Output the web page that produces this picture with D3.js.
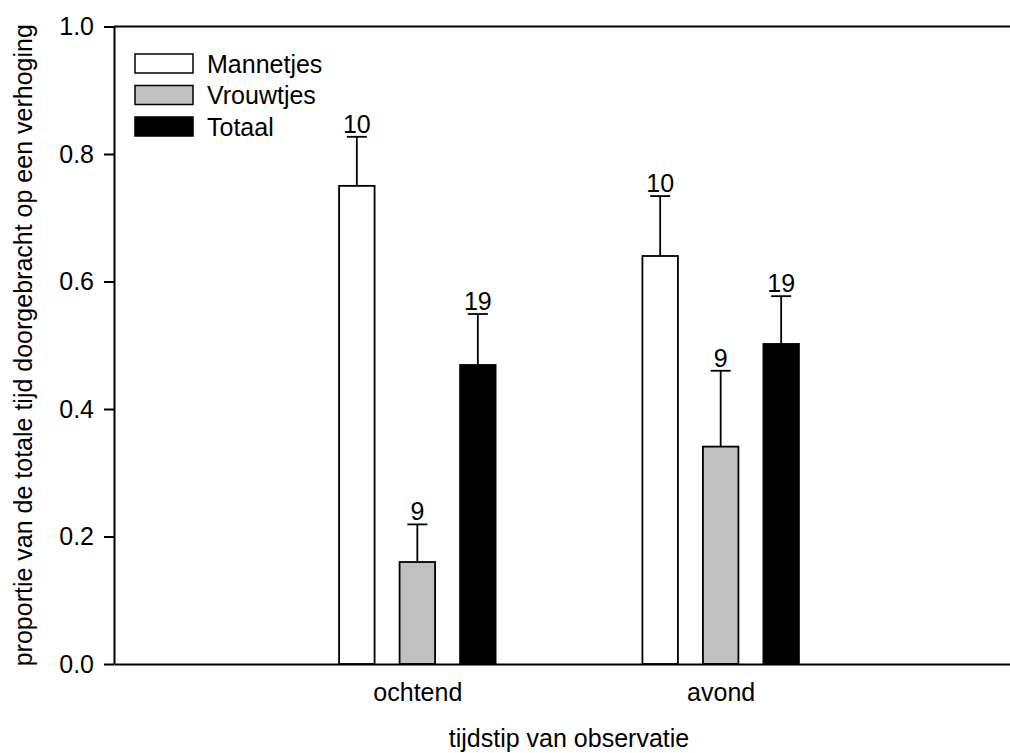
<!DOCTYPE html>
<html>
<head>
<meta charset="utf-8">
<script src="https://cdn.jsdelivr.net/npm/d3@7"></script>
<style>
  html, body { margin: 0; padding: 0; background: #fff; }
  svg { display: block; font-family: "Liberation Sans", Arial, sans-serif; }
</style>
</head>
<body>
<svg id="chart" width="1010" height="753"></svg>
<script>
// Time-of-day groups and the three series
const categories = ["ochtend", "avond"];
const series = ["Mannetjes", "Vrouwtjes", "Totaal"];

// Mean proportion per group
const mannetjes = [0.750, 0.640];
const vrouwtjes = [0.160, 0.341];
const totaal    = [0.469, 0.502];

// Standard errors (upper whisker)
const mannetjesErr = [0.077, 0.094];
const vrouwtjesErr = [0.059, 0.119];
const totaalErr    = [0.080, 0.075];

// Sample sizes printed above the whiskers
const mannetjesN = [10, 10];
const vrouwtjesN = [9, 9];
const totaalN    = [19, 19];

const yTicks = [0.0, 0.2, 0.4, 0.6, 0.8, 1.0];
const fills = ["#ffffff", "#c0c0c0", "#000000"];

const values = [mannetjes, vrouwtjes, totaal];
const errs = [mannetjesErr, vrouwtjesErr, totaalErr];
const ns = [mannetjesN, vrouwtjesN, totaalN];

const rows = [];
categories.forEach((c, ci) => {
  series.forEach((s, si) => {
    rows.push({ cat: c, ci, series: s, si, value: values[si][ci], err: errs[si][ci], n: ns[si][ci] });
  });
});

const svg = d3.select("#chart");
const plotLeft = 114, plotRight = 1024, plotTop = 26.5, plotBottom = 664;
const fontSize = 25;

// Outer scale: group slots at positions 1 and 2 on a 0..3 span
const x = d3.scaleLinear().domain([0, 3]).range([plotLeft, plotRight]);
// Inner offset of each series within its group
const xInner = d3.scalePoint().domain(series).range([-60.5, 60.5]);
const barW = 35.5;
const y = d3.scaleLinear().domain([0, 1]).range([plotBottom, plotTop]);

// Top frame line
svg.append("line")
  .attr("x1", plotLeft).attr("x2", plotRight)
  .attr("y1", y(1)).attr("y2", y(1))
  .attr("stroke", "#000").attr("stroke-width", 2);

// Bars
svg.append("g").selectAll("rect").data(rows).join("rect")
  .attr("x", d => x(d.ci + 1) + xInner(d.series) - barW / 2)
  .attr("y", d => y(d.value))
  .attr("width", barW)
  .attr("height", d => y(0) - y(d.value))
  .attr("fill", d => fills[d.si])
  .attr("stroke", "#000")
  .attr("stroke-width", 1.8);

// Error whiskers
const eb = svg.append("g").attr("stroke", "#000").attr("stroke-width", 1.8);
eb.selectAll("line.v").data(rows).join("line").attr("class", "v")
  .attr("x1", d => x(d.ci + 1) + xInner(d.series))
  .attr("x2", d => x(d.ci + 1) + xInner(d.series))
  .attr("y1", d => y(d.value))
  .attr("y2", d => y(d.value + d.err));
eb.selectAll("line.c").data(rows).join("line").attr("class", "c")
  .attr("x1", d => x(d.ci + 1) + xInner(d.series) - 10)
  .attr("x2", d => x(d.ci + 1) + xInner(d.series) + 10)
  .attr("y1", d => y(d.value + d.err))
  .attr("y2", d => y(d.value + d.err));

// Sample size labels
svg.append("g").selectAll("text").data(rows).join("text")
  .attr("x", d => x(d.ci + 1) + xInner(d.series))
  .attr("y", d => y(d.value + d.err) - 4)
  .attr("text-anchor", "middle")
  .attr("font-size", fontSize)
  .text(d => d.n);

// Y axis
const yAxis = svg.append("g")
  .attr("transform", `translate(${plotLeft},0)`)
  .call(d3.axisLeft(y).tickValues(yTicks).tickFormat(d3.format(".1f"))
    .tickSize(10).tickSizeOuter(0).tickPadding(10));
yAxis.select(".domain").attr("stroke-width", 2);
yAxis.selectAll(".tick line").attr("stroke-width", 2);
yAxis.selectAll("text").attr("font-size", fontSize).attr("font-family", "Liberation Sans, Arial, sans-serif").attr("fill", "#000");

// X axis
const xAxis = svg.append("g")
  .attr("transform", `translate(0,${plotBottom})`)
  .call(d3.axisBottom(x).tickValues([1, 2]).tickFormat(d => categories[d - 1])
    .tickSize(0).tickSizeOuter(0).tickPadding(19));
xAxis.select(".domain").attr("stroke-width", 2);
xAxis.selectAll("text").attr("font-size", fontSize).attr("font-family", "Liberation Sans, Arial, sans-serif").attr("fill", "#000");

// Axis titles
svg.append("text")
  .attr("x", (plotLeft + plotRight) / 2)
  .attr("y", 747)
  .attr("text-anchor", "middle")
  .attr("font-size", fontSize)
  .text("tijdstip van observatie");

svg.append("text")
  .attr("transform", `translate(32,${(plotTop + plotBottom) / 2}) rotate(-90)`)
  .attr("text-anchor", "middle")
  .attr("font-size", fontSize)
  .text("proportie van de totale tijd doorgebracht op een verhoging");

// Legend
const legend = svg.append("g");
series.forEach((s, i) => {
  const ly = 54 + i * 31.5;
  legend.append("rect")
    .attr("x", 135).attr("y", ly)
    .attr("width", 58).attr("height", 19)
    .attr("fill", fills[i]).attr("stroke", "#000").attr("stroke-width", 1.5);
  legend.append("text")
    .attr("x", 207).attr("y", ly + 18.5)
    .attr("font-size", fontSize)
    .text(s);
});
</script>
</body>
</html>
